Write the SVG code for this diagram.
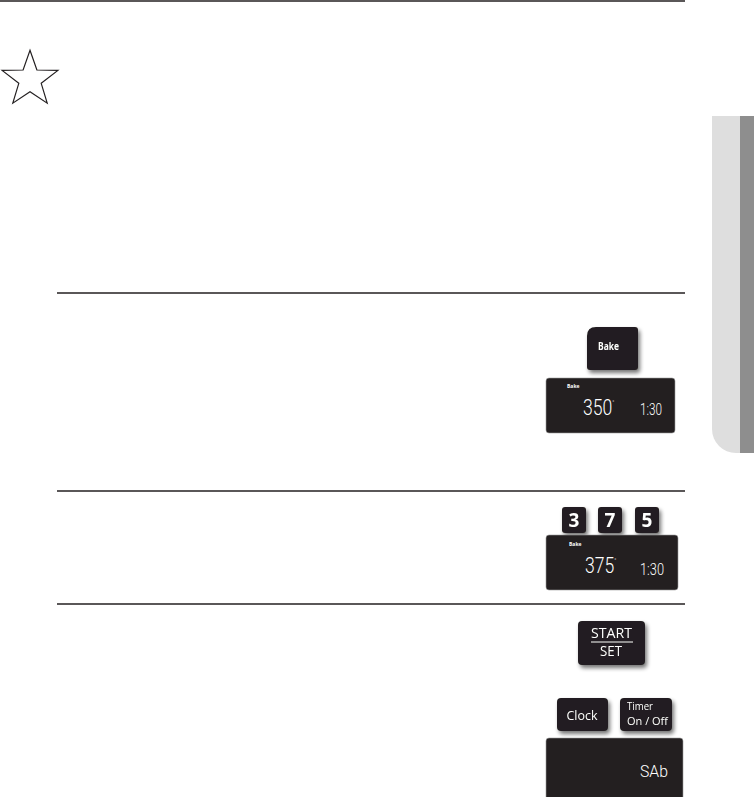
<svg xmlns="http://www.w3.org/2000/svg" width="754" height="797" viewBox="0 0 754 797">
  <style>
    .rule { stroke: #231f20; stroke-width: 1.5; fill: none; }
    .key { fill: #231f20; }
    .disp { fill: #231f20; stroke: #9a9a9a; stroke-width: 0.6; }
    .lbl { fill: #ffffff; font-family: "Open Sans", "Liberation Sans", sans-serif; }
    .seg { fill: #ffffff; font-family: Roboto, "DejaVu Sans", sans-serif; font-weight: 300; }
  </style>
  <defs>
    <filter id="sh" x="-30%" y="-30%" width="160%" height="170%">
      <feGaussianBlur in="SourceAlpha" stdDeviation="2"/>
      <feOffset dx="2" dy="3" result="b"/>
      <feComponentTransfer><feFuncA type="linear" slope="0.55"/></feComponentTransfer>
      <feMerge><feMergeNode/><feMergeNode in="SourceGraphic"/></feMerge>
    </filter>
  </defs>
  <rect width="754" height="797" fill="#ffffff"/>

  <g id="rules">
    <line class="rule" x1="0" y1="1" x2="685" y2="1"/>
    <line class="rule" x1="57" y1="293" x2="685" y2="293"/>
    <line class="rule" x1="57" y1="491" x2="685" y2="491"/>
    <line class="rule" x1="57" y1="604" x2="685" y2="604"/>
  </g>

  <g id="star">
    <polygon points="30,50.2 36.9,70 57.9,70.4 41.2,83.3 47.2,103.2 30,91.8 12.8,103.2 18.8,83.3 2.1,70.4 23.1,70" fill="#ffffff" stroke="#231f20" stroke-width="1.2" stroke-linejoin="miter"/>
  </g>

  <g id="side-tab">
    <path d="M740,116 H712 V429 A24,24 0 0 0 736,453 H740 Z" fill="#dedede"/>
    <rect x="740" y="116" width="14" height="337" fill="#8e8e8e"/>
  </g>

  <g id="bake-button" filter="url(#sh)">
    <path class="key" d="M596,327 H635 Q638,327 638,330 V367 Q638,370 635,370 H590 Q587,370 587,367 V336 Q587,327 596,327 Z"/>
    <text class="lbl" x="608.5" y="350" font-size="10" font-weight="bold" text-anchor="middle" textLength="21" lengthAdjust="spacingAndGlyphs">Bake</text>
  </g>

  <g id="display-1">
    <rect class="disp" x="546" y="378" width="129" height="55" rx="3"/>
    <text class="lbl" x="567" y="388" font-size="5" font-weight="bold">Bake</text>
    <text class="seg" transform="translate(583,415) scale(0.8,1)" font-size="22">350<tspan font-size="7" dy="-10">°</tspan></text>
    <text class="seg" x="640" y="415" font-size="17" textLength="22" lengthAdjust="spacingAndGlyphs">1:30</text>
  </g>

  <g id="key-3" filter="url(#sh)">
    <rect class="key" x="562" y="507" width="24" height="26" rx="3"/>
    <text class="lbl" x="574" y="527" font-size="19" font-weight="bold" text-anchor="middle">3</text>
  </g>
  <g id="key-7" filter="url(#sh)">
    <rect class="key" x="598" y="507" width="24" height="26" rx="3"/>
    <text class="lbl" x="610" y="527" font-size="19" font-weight="bold" text-anchor="middle">7</text>
  </g>
  <g id="key-5" filter="url(#sh)">
    <rect class="key" x="635" y="507" width="24" height="26" rx="3"/>
    <text class="lbl" x="647" y="527" font-size="19" font-weight="bold" text-anchor="middle">5</text>
  </g>

  <g id="display-2">
    <rect class="disp" x="546" y="535" width="132" height="55" rx="3"/>
    <text class="lbl" x="569" y="546" font-size="5" font-weight="bold">Bake</text>
    <text class="seg" transform="translate(585,573) scale(0.8,1)" font-size="22">375<tspan font-size="7" dy="-10">°</tspan></text>
    <text class="seg" x="640" y="575" font-size="17" textLength="24" lengthAdjust="spacingAndGlyphs">1:30</text>
  </g>

  <g id="start-set-button" filter="url(#sh)">
    <rect class="key" x="578" y="621" width="67" height="44" rx="4"/>
    <text class="lbl" x="611.5" y="638" font-size="14" text-anchor="middle" textLength="41" lengthAdjust="spacingAndGlyphs">START</text>
    <line x1="591" y1="642" x2="633" y2="642" stroke="#ffffff" stroke-width="1"/>
    <text class="lbl" x="611" y="656" font-size="14" text-anchor="middle" textLength="22" lengthAdjust="spacingAndGlyphs">SET</text>
  </g>

  <g id="clock-button" filter="url(#sh)">
    <rect class="key" x="557" y="698" width="51" height="33" rx="4"/>
    <text class="lbl" x="582" y="720" font-size="13" text-anchor="middle" textLength="31" lengthAdjust="spacingAndGlyphs">Clock</text>
  </g>

  <g id="timer-button" filter="url(#sh)">
    <rect class="key" x="620" y="698" width="52" height="33" rx="4"/>
    <text class="lbl" x="627" y="710" font-size="10.5" textLength="26" lengthAdjust="spacingAndGlyphs">Timer</text>
    <text class="lbl" x="627" y="725" font-size="10.5" textLength="41" lengthAdjust="spacingAndGlyphs">On / Off</text>
  </g>

  <g id="display-3">
    <rect class="disp" x="546" y="738" width="137" height="62" rx="3"/>
    <text class="seg" x="640" y="777" font-size="17" textLength="28" lengthAdjust="spacingAndGlyphs">SAb</text>
  </g>
</svg>
